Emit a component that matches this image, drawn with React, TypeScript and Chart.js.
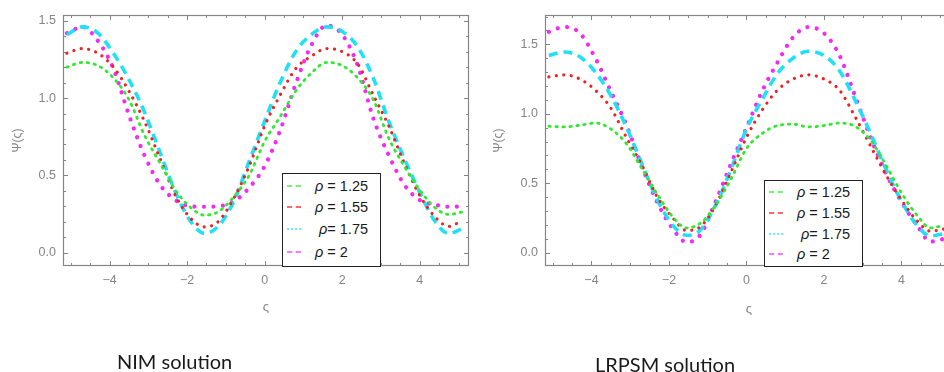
import React, { useEffect, useRef } from 'react';
import { Chart, registerables } from 'chart.js';

Chart.register(...registerables);

// shared abscissae (ς)
const xs = [-5.1, -4.7, -4.3, -3.9, -3.5, -3.1, -2.7, -2.3, -1.9, -1.55, -1.2, -0.8, -0.4, 0, 0.4, 0.8, 1.2, 1.6, 2.0, 2.4, 2.8, 3.2, 3.6, 4.0, 4.4, 4.75, 5.1];

// NIM solution
const nim125 = [1.20, 1.23, 1.21, 1.13, 0.99, 0.76, 0.58, 0.405, 0.29, 0.243, 0.264, 0.36, 0.50, 0.72, 0.88, 1.045, 1.16, 1.23, 1.21, 1.13, 0.99, 0.74, 0.56, 0.405, 0.29, 0.247, 0.264];
const nim155 = [1.29, 1.32, 1.29, 1.20, 1.045, 0.85, 0.61, 0.37, 0.22, 0.167, 0.20, 0.35, 0.56, 0.82, 1.02, 1.19, 1.27, 1.32, 1.30, 1.22, 1.02, 0.82, 0.58, 0.37, 0.23, 0.17, 0.21];
const nim175 = [1.41, 1.46, 1.42, 1.29, 1.12, 0.91, 0.65, 0.39, 0.20, 0.124, 0.17, 0.33, 0.59, 0.85, 1.10, 1.30, 1.41, 1.46, 1.43, 1.33, 1.13, 0.85, 0.61, 0.39, 0.20, 0.124, 0.156];
const nim2 = [1.42, 1.46, 1.37, 1.19, 0.89, 0.63, 0.44, 0.34, 0.30, 0.297, 0.30, 0.33, 0.42, 0.56, 0.79, 1.09, 1.34, 1.47, 1.41, 1.21, 0.87, 0.63, 0.44, 0.34, 0.31, 0.297, 0.30];

// LRPSM solution
const lr125 = [0.91, 0.905, 0.917, 0.933, 0.89, 0.785, 0.605, 0.42, 0.257, 0.178, 0.21, 0.34, 0.53, 0.75, 0.857, 0.915, 0.925, 0.905, 0.915, 0.933, 0.91, 0.81, 0.63, 0.43, 0.27, 0.178, 0.197];
const lr155 = [1.265, 1.28, 1.25, 1.17, 1.04, 0.83, 0.63, 0.40, 0.25, 0.16, 0.185, 0.34, 0.58, 0.83, 1.025, 1.17, 1.25, 1.28, 1.25, 1.17, 0.98, 0.77, 0.56, 0.38, 0.23, 0.155, 0.17];
const lr175 = [1.42, 1.445, 1.41, 1.30, 1.13, 0.905, 0.64, 0.38, 0.197, 0.125, 0.16, 0.34, 0.60, 0.89, 1.10, 1.29, 1.40, 1.45, 1.42, 1.31, 1.10, 0.86, 0.60, 0.37, 0.197, 0.12, 0.137];
const lr2 = [1.59, 1.625, 1.58, 1.40, 1.16, 0.92, 0.62, 0.36, 0.17, 0.077, 0.125, 0.365, 0.64, 0.90, 1.16, 1.37, 1.55, 1.625, 1.58, 1.42, 1.13, 0.83, 0.57, 0.365, 0.197, 0.08, 0.10];

const legendLabels = ['ρ = 1.25', 'ρ = 1.55', 'ρ= 1.75', 'ρ = 2'];
const xTickValues = [-4, -2, 0, 2, 4];

const COLORS = ['rgb(50,232,50)', 'rgb(240,32,32)', 'rgb(30,225,245)', 'rgb(245,40,245)'];
const LEGEND_COLORS = ['rgb(120,240,120)', 'rgb(245,110,110)', 'rgb(110,235,250)', 'rgb(250,120,250)'];

const STYLES = [
  { borderWidth: 2.8, borderDash: [1.5, 5.5], borderCapStyle: 'round' },
  { borderWidth: 3.2, borderDash: [0.01, 7.5], borderCapStyle: 'round' },
  { borderWidth: 3.6, borderDash: [9, 6], borderCapStyle: 'butt' },
  { borderWidth: 4.2, borderDash: [0.01, 9.5], borderCapStyle: 'round' },
];

const GRAY = '#858585';
const TICK_FONT = { family: '"Liberation Sans", Arial, sans-serif', size: 12.5 };

const framePlugin = {
  id: 'frame',
  afterDatasetsDraw(chart: any, _args: any, opts: any) {
    const { ctx, chartArea: a, scales } = chart;
    const x = scales.x;
    const y = scales.y;
    ctx.save();
    ctx.strokeStyle = GRAY;
    ctx.lineWidth = 1.2;
    ctx.strokeRect(a.left + 0.5, a.top + 0.5, a.right - a.left - 1, a.bottom - a.top - 1);
    ctx.lineWidth = 1;
    ctx.beginPath();
    for (let i = -10; i <= 10; i++) {
      const v = i * 0.5;
      const px = Math.round(x.getPixelForValue(v)) + 0.5;
      if (px < a.left || px > a.right) continue;
      const len = i % 4 === 0 ? 5 : 3;
      ctx.moveTo(px, a.bottom);
      ctx.lineTo(px, a.bottom - len);
      ctx.moveTo(px, a.top);
      ctx.lineTo(px, a.top + len);
    }
    const nY = Math.round(opts.yMinorMax * 10);
    for (let j = 0; j <= nY; j++) {
      const v = j / 10;
      const py = Math.round(y.getPixelForValue(v)) + 0.5;
      const len = j % 5 === 0 ? 5 : 3;
      ctx.moveTo(a.left, py);
      ctx.lineTo(a.left + len, py);
      ctx.moveTo(a.right, py);
      ctx.lineTo(a.right - len, py);
    }
    ctx.stroke();
    ctx.restore();
  },
};

type PanelProps = {
  series: number[][];
  canvasLeft: number;
  chartLeft: number;
  chartRight: number;
  xMin: number;
  xMax: number;
  yMin: number;
  yMax: number;
  yMinorMax: number;
  yTitlePad: number;
  xTitlePad: number;
};

const CW = 480;
const CH = 372;
const TOP = 15;
const BOTTOM = 266;

function Panel(p: PanelProps) {
  const ref = useRef<HTMLCanvasElement | null>(null);
  useEffect(() => {
    if (!ref.current) return;
    const datasets = p.series.map((s, i) => ({
      label: legendLabels[i],
      data: s.map((v, k) => ({ x: xs[k], y: v })),
      borderColor: COLORS[i],
      backgroundColor: COLORS[i],
      pointRadius: 0,
      fill: false,
      cubicInterpolationMode: 'monotone',
      ...STYLES[i],
    }));
    const chart = new Chart(ref.current, {
      type: 'line',
      data: { datasets } as any,
      plugins: [framePlugin],
      options: {
        animation: false,
        responsive: false,
        maintainAspectRatio: false,
        devicePixelRatio: 1,
        layout: { padding: { left: 0, top: TOP, right: CW - p.chartRight, bottom: 0 } },
        plugins: {
          legend: { display: false },
          tooltip: { enabled: false },
          frame: { yMinorMax: p.yMinorMax },
        } as any,
        scales: {
          x: {
            type: 'linear',
            min: p.xMin,
            max: p.xMax,
            border: { display: false },
            grid: { display: false, drawTicks: false },
            afterFit: (s: any) => { s.height = CH - BOTTOM; },
            afterBuildTicks: (s: any) => { s.ticks = xTickValues.map((v) => ({ value: v })); },
            ticks: {
              color: GRAY,
              font: TICK_FONT,
              padding: 7,
              maxRotation: 0,
              callback: (v: any) => (v < 0 ? '\u2212' + Math.abs(v) : String(v)),
            },
            title: {
              display: true,
              text: 'ς',
              color: GRAY,
              font: { family: '"Liberation Sans", Arial, sans-serif', size: 13 },
              padding: { top: 0, bottom: p.xTitlePad },
            },
          },
          y: {
            type: 'linear',
            min: p.yMin,
            max: p.yMax,
            border: { display: false },
            grid: { display: false, drawTicks: false },
            afterFit: (s: any) => { s.width = p.chartLeft; },
            ticks: {
              color: GRAY,
              font: TICK_FONT,
              padding: 7,
              stepSize: 0.5,
              includeBounds: false,
              callback: (v: any) => Number(v).toFixed(1),
            },
            title: {
              display: true,
              text: 'Ψ(ς)',
              color: GRAY,
              font: { family: '"Liberation Sans", Arial, sans-serif', size: 12 },
              padding: { top: p.yTitlePad, bottom: 0 },
            },
          },
        },
      } as any,
    });
    return () => chart.destroy();
  }, []);
  return (
    <canvas
      ref={ref}
      width={CW}
      height={CH}
      style={{ position: 'absolute', left: p.canvasLeft, top: 0, width: CW, height: CH }}
    />
  );
}

function Legend(props: { left: number; top: number; height: number; rowTops: number[] }) {
  return (
    <div
      style={{
        position: 'absolute',
        left: props.left,
        top: props.top,
        width: 99,
        height: props.height,
        border: '1.5px solid #222',
        background: '#fff',
        boxSizing: 'border-box',
        fontFamily: '"Liberation Sans", Arial, sans-serif',
        fontSize: 14.5,
        color: '#1a1a1a',
      }}
    >
      {legendLabels.map((lab, i) => (
        <div
          key={i}
          style={{ position: 'absolute', left: 0, top: props.rowTops[i], height: 18, width: '100%' }}
        >
          <span
            style={{
              position: 'absolute',
              left: 4,
              top: 8,
              width: 14,
              height: 0,
              borderTop: `2px ${i === 2 ? 'dotted' : 'dashed'} ${LEGEND_COLORS[i]}`,
            }}
          />
          <span style={{ position: 'absolute', left: i === 2 ? 36 : 32, top: 0, whiteSpace: 'pre', lineHeight: '18px' }}>
            <i>{lab.slice(0, 1)}</i>
            {lab.slice(1)}
          </span>
        </div>
      ))}
    </div>
  );
}

export default function App() {
  return (
    <div
      style={{
        position: 'fixed',
        left: 0,
        top: 0,
        width: 944,
        height: 372,
        overflow: 'hidden',
        background: '#fff',
      }}
    >
      <Panel
        series={[nim125, nim155, nim175, nim2]}
        canvasLeft={0}
        chartLeft={63}
        chartRight={469}
        xMin={-5.2}
        xMax={5.27}
        yMin={-0.086}
        yMax={1.537}
        yMinorMax={1.5}
        yTitlePad={10}
        xTitlePad={57}
      />
      <Panel
        series={[lr125, lr155, lr175, lr2]}
        canvasLeft={480}
        chartLeft={65}
        chartRight={473}
        xMin={-5.2}
        xMax={5.33}
        yMin={-0.096}
        yMax={1.711}
        yMinorMax={1.7}
        yTitlePad={11}
        xTitlePad={55}
      />
      <Legend left={282} top={173} height={94} rowTops={[3, 24, 46, 69]} />
      <Legend left={764} top={180} height={87} rowTops={[2, 23, 44, 64]} />
      <div
        style={{
          position: 'absolute',
          left: 117,
          top: 351,
          fontFamily: 'Lato, "Open Sans", sans-serif',
          fontSize: 20,
          lineHeight: 1,
          color: '#1a1a1a',
          whiteSpace: 'nowrap',
        }}
      >
        NIM solution
      </div>
      <div
        style={{
          position: 'absolute',
          left: 595,
          top: 354,
          fontFamily: 'Lato, "Open Sans", sans-serif',
          fontSize: 20,
          lineHeight: 1,
          color: '#1a1a1a',
          whiteSpace: 'nowrap',
        }}
      >
        LRPSM solution
      </div>
    </div>
  );
}
